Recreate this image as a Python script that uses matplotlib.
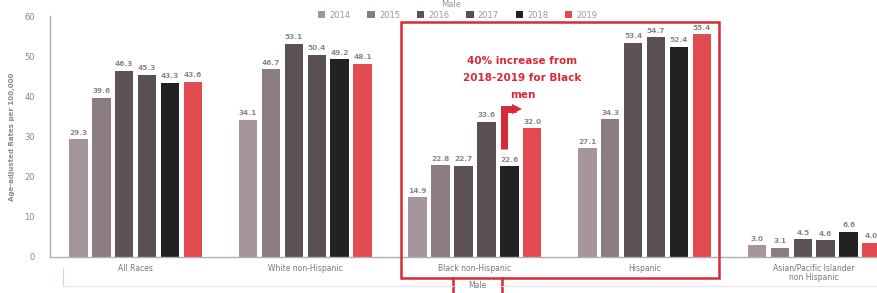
"""Age-adjusted rates per 100,000, male, by race/ethnicity, 2014-2019."""
import numpy as np
import matplotlib.pyplot as plt
from matplotlib.patches import Rectangle
from matplotlib.lines import Line2D

groups = ["All Races", "White non-Hispanic", "Black non-Hispanic", "Hispanic",
          "Asian/Pacific Islander\nnon Hispanic"]
years = ["2014", "2015", "2016", "2017", "2018", "2019"]
rates = {
    "2014": [29.3, 34.1, 14.9, 27.1, 2.9],
    "2015": [39.6, 46.7, 22.8, 34.3, 2.3],
    "2016": [46.3, 53.1, 22.7, 53.4, 4.4],
    "2017": [45.3, 50.4, 33.6, 54.7, 4.2],
    "2018": [43.3, 49.2, 22.6, 52.4, 6.3],
    "2019": [43.6, 48.1, 32.0, 55.4, 3.6],
}
value_labels = {
    "2014": ["29.3", "34.1", "14.9", "27.1", "3.0"],
    "2015": ["39.6", "46.7", "22.8", "34.3", "3.1"],
    "2016": ["46.3", "53.1", "22.7", "53.4", "4.5"],
    "2017": ["45.3", "50.4", "33.6", "54.7", "4.6"],
    "2018": ["43.3", "49.2", "22.6", "52.4", "6.6"],
    "2019": ["43.6", "48.1", "32.0", "55.4", "4.0"],
}
colors = {"2014": "#a6959c", "2015": "#8c7c83", "2016": "#5c5156",
          "2017": "#5a5054", "2018": "#222222", "2019": "#e24c50"}

RED = "#d62a36"

W, H = 877, 293
fig = plt.figure(figsize=(W / 100, H / 100), dpi=100)
ax = fig.add_axes([50 / W, 36 / H, (W - 50) / W, 241 / H])

x = np.arange(len(groups))
step = 0.135
width = 0.109
for i, yr in enumerate(years):
    off = (i - 2.5) * step
    bars = ax.bar(x + off, rates[yr], width, color=colors[yr], label=yr,
                  edgecolor="none")
    for b, lab in zip(bars, value_labels[yr]):
        ax.text(b.get_x() + b.get_width() / 2, b.get_height() + 0.9, lab,
                ha="center", va="bottom", fontsize=5.3, color="#888888",
                fontweight="bold")

ax.set_xlim(-0.505, 4.37)
ax.set_ylim(0, 60)
ax.set_yticks(np.arange(0, 61, 10))
ax.tick_params(axis="y", length=0, pad=11, labelsize=6, labelcolor="#888888")
ax.set_xticks(x)
ax.set_xticklabels(groups, fontsize=5.5, color="#777777", linespacing=1.0)
ax.tick_params(axis="x", length=0, pad=5)
for s in ["top", "right"]:
    ax.spines[s].set_visible(False)
for s in ["left", "bottom"]:
    ax.spines[s].set_color("#b0b0b0")
    ax.spines[s].set_linewidth(1.0)
ax.set_ylabel("Age-adjusted Rates per 100,000", fontsize=5, color="#888888",
              fontweight="bold")
ax.yaxis.set_label_coords(-0.042, 0.5)

# elbow arrow rising from the 2018 black bar, pointing right toward 2019
xa = x[2] + 1.5 * step - 0.032
y_low = rates["2018"][2] + 4.2
y_high = rates["2017"][2] + 3.2
ax.plot([xa, xa, xa + 0.07], [y_low, y_high, y_high], color=RED, lw=5,
        solid_joinstyle="miter", solid_capstyle="butt")
ax.plot([xa + 0.075], [y_high], marker=">", markersize=7.5, color=RED,
        markeredgewidth=0)
ax.text(xa + 0.11, 44.5, "40% increase from\n2018-2019 for Black\nmen",
        ha="center", va="center", fontsize=7.5, color=RED, fontweight="bold",
        linespacing=1.9)

# highlight box and "Male" bracket
fig.add_artist(Rectangle((401 / W, 15 / H), 318 / W, 256 / H,
                         transform=fig.transFigure, fill=False,
                         edgecolor=RED, lw=1.8))
for px in (453, 502):
    fig.add_artist(Line2D([px / W, px / W], [-0.02, 15 / H],
                          transform=fig.transFigure, color=RED, lw=1.8))
fig.text(477 / W, 7 / H, "Male", ha="center", va="center", fontsize=5.5,
         color="#777777")
fig.add_artist(Line2D([63 / W, 63 / W], [7 / H, 25 / H],
                      transform=fig.transFigure, color="#e4d0d4", lw=0.8))
fig.add_artist(Line2D([63 / W, 453 / W], [7 / H, 7 / H],
                      transform=fig.transFigure, color="#e8e0e2", lw=0.8))
fig.add_artist(Line2D([502 / W, 1.0], [7 / H, 7 / H],
                      transform=fig.transFigure, color="#e8e0e2", lw=0.8))
fig.text(451 / W, 1.0, "Male", ha="center", va="top", fontsize=6,
         color="#999999")

fig.legend(loc="center", bbox_to_anchor=(0.522, 0.948), ncol=6, frameon=False,
           fontsize=6, handlelength=0.9, handleheight=0.9,
           handletextpad=0.5, columnspacing=2.0, labelcolor="#999999")

fig.savefig("out.png", dpi=100)
